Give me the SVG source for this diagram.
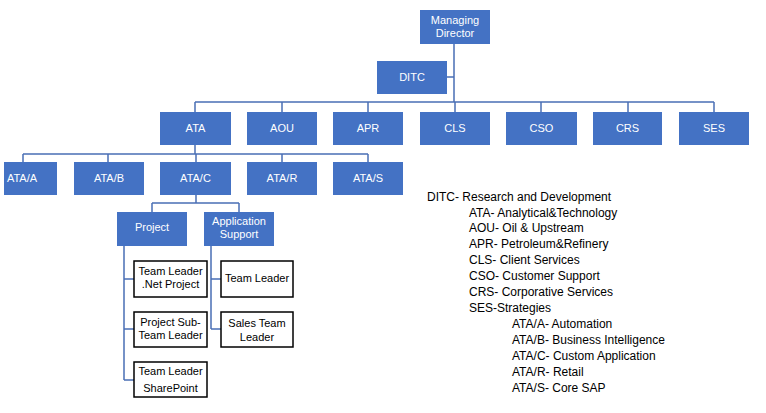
<svg xmlns="http://www.w3.org/2000/svg" width="766" height="413" viewBox="0 0 766 413">
<style>
.b{fill:#4472C4;}
.w{fill:#fff;stroke:#000;stroke-width:1.5;}
.t{font-family:"Liberation Sans",Arial,sans-serif;font-size:11px;fill:#fff;text-anchor:middle;}
.k{font-family:"Liberation Sans",Arial,sans-serif;font-size:11px;fill:#000;text-anchor:middle;}
.l{font-family:"Liberation Sans",Arial,sans-serif;font-size:12px;fill:#000;}
.c{fill:none;stroke:#4A6FB5;stroke-width:1.5;}
</style>
<rect width="766" height="413" fill="#fff"/>
<g id="connectors" class="c">
<path d="M454,44V102M447,77H454M195,102H714M195,102V112M282,102V112M368,102V112M455,102V112M541,102V112M628,102V112M714,102V112"/>
<path d="M195,145V154M23,154H368M23,154V162M108,154V162M196,154V162M282,154V162M368,154V162"/>
<path d="M196,195V203M152,203H239M152,203V212M239,203V212"/>
<path d="M124,246V380M124,279H134M124,329H134M124,380H134"/>
<path d="M211,246V329M211,279H221M211,329H221"/>
</g>
<g id="md"><rect class="b" x="420" y="10" width="70" height="34"/><text class="t" x="455" y="24">Managing</text><text class="t" x="455" y="37">Director</text></g>
<g id="ditc"><rect class="b" x="377" y="61" width="70" height="33"/><text class="t" x="412" y="81">DITC</text></g>
<g id="ata"><rect class="b" x="160" y="112" width="71" height="33"/><text class="t" x="195.5" y="132">ATA</text></g>
<g id="aou"><rect class="b" x="247" y="112" width="70" height="33"/><text class="t" x="282" y="132">AOU</text></g>
<g id="apr"><rect class="b" x="333" y="112" width="70" height="33"/><text class="t" x="368" y="132">APR</text></g>
<g id="cls"><rect class="b" x="420" y="112" width="70" height="33"/><text class="t" x="455" y="132">CLS</text></g>
<g id="cso"><rect class="b" x="506" y="112" width="71" height="33"/><text class="t" x="541.5" y="132">CSO</text></g>
<g id="crs"><rect class="b" x="593" y="112" width="69" height="33"/><text class="t" x="627.5" y="132">CRS</text></g>
<g id="ses"><rect class="b" x="679" y="112" width="70" height="33"/><text class="t" x="714" y="132">SES</text></g>
<g id="ataa"><rect class="b" x="4" y="162" width="53" height="33"/><text class="t" x="22" y="182">ATA/A</text></g>
<g id="atab"><rect class="b" x="74" y="162" width="70" height="33"/><text class="t" x="109" y="182">ATA/B</text></g>
<g id="atac"><rect class="b" x="160" y="162" width="71" height="33"/><text class="t" x="195.5" y="182">ATA/C</text></g>
<g id="atar"><rect class="b" x="247" y="162" width="70" height="33"/><text class="t" x="282" y="182">ATA/R</text></g>
<g id="atas"><rect class="b" x="333" y="162" width="70" height="33"/><text class="t" x="368" y="182">ATA/S</text></g>
<g id="project"><rect class="b" x="117" y="212" width="70" height="34"/><text class="t" x="152" y="231">Project</text></g>
<g id="appsup"><rect class="b" x="204" y="212" width="70" height="34"/><text class="t" x="239" y="225">Application</text><text class="t" x="239" y="238">Support</text></g>
<g id="tlnet"><rect class="w" x="134" y="261" width="73" height="36"/><text class="k" x="170.5" y="275">Team Leader</text><text class="k" x="170.5" y="288">.Net Project</text></g>
<g id="psub"><rect class="w" x="134" y="312" width="73" height="35"/><text class="k" x="170.5" y="326">Project Sub-</text><text class="k" x="170.5" y="339">Team Leader</text></g>
<g id="tlsp"><rect class="w" x="134" y="362" width="73" height="35"/><text class="k" x="170.5" y="375">Team Leader</text><text class="k" x="170.5" y="392">SharePoint</text></g>
<g id="tl"><rect class="w" x="221" y="261" width="72" height="36"/><text class="k" x="257" y="282">Team Leader</text></g>
<g id="stl"><rect class="w" x="221" y="312" width="72" height="35"/><text class="k" x="257" y="327">Sales Team</text><text class="k" x="257" y="341">Leader</text></g>
<g id="legend" class="l">
<text x="427" y="201">DITC- Research and Development</text>
<text x="469" y="217">ATA- Analytical&amp;Technology</text>
<text x="469" y="232">AOU- Oil &amp; Upstream</text>
<text x="469" y="248">APR- Petroleum&amp;Refinery</text>
<text x="469" y="264">CLS- Client Services</text>
<text x="469" y="280">CSO- Customer Support</text>
<text x="469" y="296">CRS- Corporative Services</text>
<text x="469" y="312">SES-Strategies</text>
<text x="512" y="328">ATA/A- Automation</text>
<text x="512" y="344">ATA/B- Business Intelligence</text>
<text x="512" y="360">ATA/C- Custom Application</text>
<text x="512" y="376">ATA/R- Retail</text>
<text x="512" y="392">ATA/S- Core SAP</text>
</g>
</svg>
